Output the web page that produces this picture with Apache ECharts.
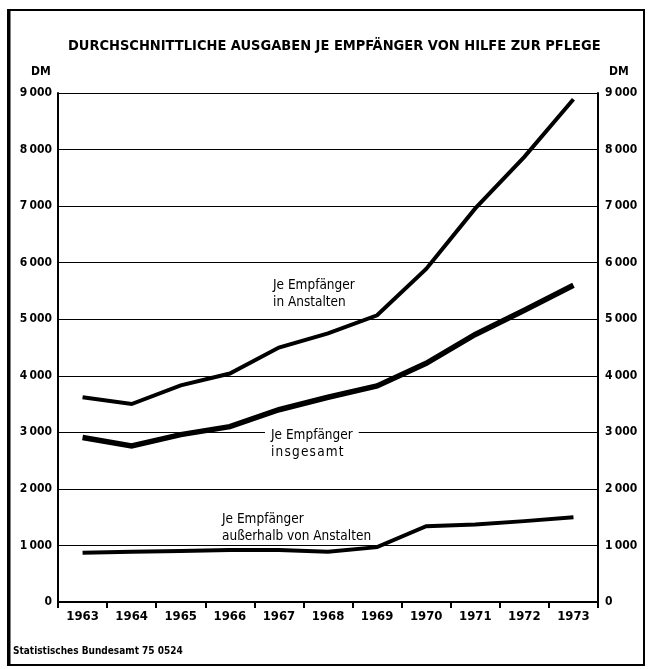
<!DOCTYPE html>
<html>
<head>
<meta charset="utf-8">
<script src="https://cdn.jsdelivr.net/npm/echarts@6/dist/echarts.min.js"></script>
<style>
html,body{margin:0;padding:0;background:#fff;}
#main{width:649px;height:669px;}
</style>
</head>
<body>
<div id="main"></div>
<script>
var jahre = ['1963','1964','1965','1966','1967','1968','1969','1970','1971','1972','1973'];
// DM je Empfänger
var inAnstalten = [3620, 3500, 3830, 4040, 4500, 4750, 5070, 5890, 6960, 7870, 8890];
var insgesamt = [2910, 2760, 2960, 3100, 3400, 3620, 3820, 4220, 4730, 5160, 5600];
var ausserhalb = [870, 890, 900, 920, 920, 890, 970, 1340, 1370, 1430, 1500];
var yTicks = [0, 1000, 2000, 3000, 4000, 5000, 6000, 7000, 8000, 9000];

var schrift = '"Liberation Sans Narrow","DejaVu Sans Condensed",sans-serif';
var myChart = echarts.init(document.getElementById('main'));

function dm(v){
	// 9000 -> "9 000"
	if(v < 1000) return String(v);
	var s = String(v);
	return s.slice(0, s.length-3) + '\u2009' + s.slice(-3);
}

var yAchse = function(pos){
	return {
		type: 'value',
		position: pos,
		min: yTicks[0],
		max: yTicks[yTicks.length-1],
		interval: 1000,
		axisLine: {show: true, lineStyle: {color: '#000', width: 2}},
		axisTick: {show: false},
		splitLine: {show: pos == 'left', lineStyle: {color: '#000', width: 1}},
		axisLabel: {
			color: '#000', fontFamily: schrift, fontWeight: 'bold', fontSize: 12,
			margin: pos == 'left' ? 6 : 7,
			formatter: function(v){ return dm(v); }
		}
	};
};

function linie(name, data, breite){
	return {
		name: name,
		type: 'line',
		data: data,
		symbol: 'none',
		smooth: false,
		lineStyle: {color: '#000', width: breite, cap: 'butt', join: 'miter'},
		z: 5
	};
}

var option = {
	backgroundColor: '#fff',
	animation: false,
	grid: {left: 58, right: 51, top: 93, bottom: 67},
	title: {
		text: 'DURCHSCHNITTLICHE AUSGABEN JE EMPFÄNGER VON HILFE ZUR PFLEGE',
		left: 63, top: 34,
		textStyle: {color: '#000', fontFamily: schrift, fontWeight: 'bold', fontSize: 14.5}
	},
	xAxis: {
		type: 'category',
		data: jahre,
		boundaryGap: true,
		axisLine: {lineStyle: {color: '#000', width: 2}},
		axisTick: {show: true, length: 6, lineStyle: {color: '#000', width: 2}},
		axisLabel: {color: '#000', fontFamily: schrift, fontWeight: 'bold', fontSize: 13, margin: 8},
		splitLine: {show: false}
	},
	yAxis: [yAchse('left'), yAchse('right')],
	series: [
		linie('Je Empfänger in Anstalten', inAnstalten, 4),
		linie('Je Empfänger insgesamt', insgesamt, 5.5),
		linie('Je Empfänger außerhalb von Anstalten', ausserhalb, 4)
	],
	graphic: [
		{type: 'rect', shape: {x: 8, y: 10, width: 636, height: 655},
			style: {fill: 'none', stroke: '#000', lineWidth: 2}, silent: true},
		{type: 'line', shape: {x1: 9, y1: 10, x2: 9, y2: 665},
			style: {stroke: '#000', lineWidth: 3}, silent: true},
		{type: 'text', left: 31, top: 66,
			style: {text: 'DM', fill: '#000', font: 'bold 12px ' + schrift}},
		{type: 'text', left: 609, top: 66,
			style: {text: 'DM', fill: '#000', font: 'bold 12px ' + schrift}},
		{type: 'text', left: 273, top: 277, z: 10,
			style: {text: 'Je Empfänger\nin Anstalten', fill: '#000', font: '13.5px ' + schrift, lineHeight: 17}},
		{type: 'text', left: 265, top: 426, z: 10,
			style: {text: 'Je Empfänger\ni\u200An\u200As\u200Ag\u200Ae\u200As\u200Aa\u200Am\u200At', fill: '#000', font: '13.5px ' + schrift,
				lineHeight: 17, backgroundColor: '#fff', padding: [1, 6, 0, 6]}},
		{type: 'text', left: 222, top: 511, z: 10,
			style: {text: 'Je Empfänger\naußerhalb von Anstalten', fill: '#000', font: '13.5px ' + schrift, lineHeight: 17}},
		{type: 'text', left: 13, top: 646,
			style: {text: 'Statistisches Bundesamt 75 0524', fill: '#000', font: 'bold 10px ' + schrift}}
	]
};
myChart.setOption(option);
</script>
</body>
</html>
